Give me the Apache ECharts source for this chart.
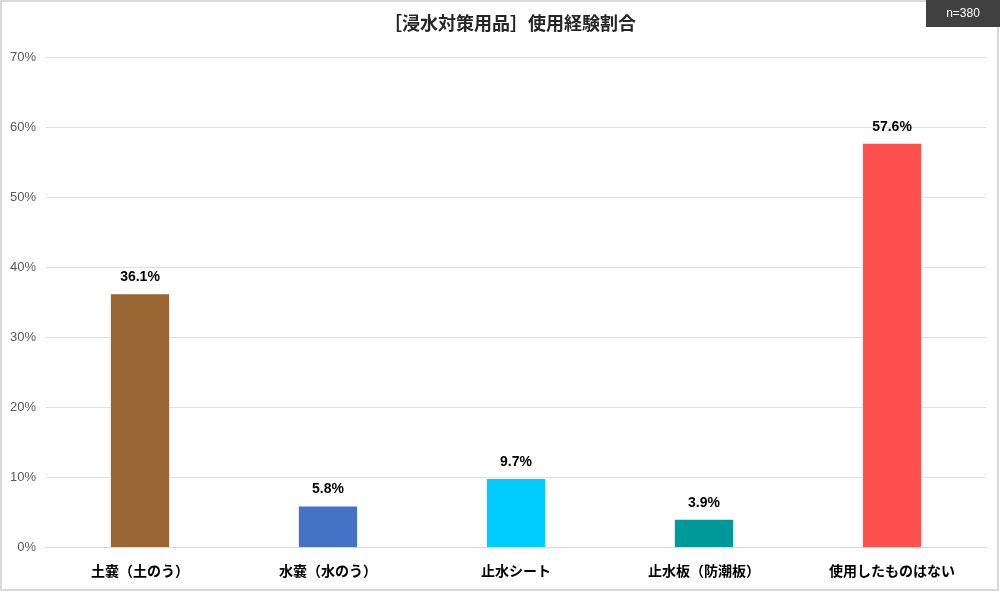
<!DOCTYPE html>
<html>
<head>
<meta charset="utf-8">
<script src="https://cdn.jsdelivr.net/npm/echarts@6/dist/echarts.min.js"></script>
<style>
  html, body { margin: 0; padding: 0; background: #fff; }
  #chart { width: 1000px; height: 592px; }
</style>
</head>
<body>
<div id="chart"></div>
<script>
// 数据
const categories = ['土嚢（土のう）', '水嚢（水のう）', '止水シート', '止水板（防潮板）', '使用したものはない']
const values = [36.1, 5.8, 9.7, 3.9, 57.6]
const barColors = ['#996633', '#4472C4', '#00CCFF', '#009999', '#FF5050']
const titleText = '［浸水対策用品］使用経験割合'
const sampleText = 'n=380'

const chart = echarts.init(document.getElementById('chart'))

chart.setOption({
  animation: false,
  backgroundColor: '#fff',
  title: {
    text: titleText,
    left: 505,
    top: 9,
    textAlign: 'center',
    textStyle: {
      fontFamily: 'Noto Sans CJK JP',
      fontSize: 18,
      fontWeight: 'bold',
      color: '#262626'
    }
  },
  graphic: [
    {
      type: 'rect',
      shape: { x: 1, y: 1, width: 997, height: 589 },
      style: { fill: 'none', stroke: '#D9D9D9', lineWidth: 2 },
      z: 0
    },
    {
      type: 'rect',
      shape: { x: 926, y: 0, width: 74, height: 27 },
      style: { fill: '#404040' },
      z: 10
    },
    {
      type: 'text',
      x: 963,
      y: 13.5,
      style: {
        text: sampleText,
        fill: '#fff',
        font: '12px "Liberation Sans", Arial, sans-serif',
        textAlign: 'center',
        textVerticalAlign: 'middle'
      },
      z: 11
    }
  ],
  grid: {
    left: 46,
    right: 14,
    top: 57,
    bottom: 45
  },
  xAxis: {
    type: 'category',
    data: categories,
    axisLine: { show: true, lineStyle: { color: '#D9D9D9', width: 1 } },
    axisTick: { show: false },
    axisLabel: {
      margin: 17,
      fontFamily: 'Noto Sans CJK JP',
      fontSize: 14,
      fontWeight: 'bold',
      color: '#000'
    }
  },
  yAxis: {
    type: 'value',
    min: 0,
    max: 70,
    interval: 10,
    axisLine: { show: false },
    axisTick: { show: false },
    axisLabel: {
      formatter: '{value}%',
      margin: 10,
      fontFamily: 'Liberation Sans',
      fontSize: 13,
      color: '#595959'
    },
    splitLine: { lineStyle: { color: '#E0E0E0', width: 1 } }
  },
  series: [{
    type: 'bar',
    barWidth: '31%',
    data: values.map((v, i) => ({ value: v, itemStyle: { color: barColors[i] } })),
    label: {
      show: true,
      position: 'top',
      distance: 10,
      formatter: p => p.value.toFixed(1) + '%',
      fontFamily: 'Liberation Sans',
      fontSize: 14,
      fontWeight: 'bold',
      color: '#000'
    }
  }]
})
</script>
</body>
</html>
